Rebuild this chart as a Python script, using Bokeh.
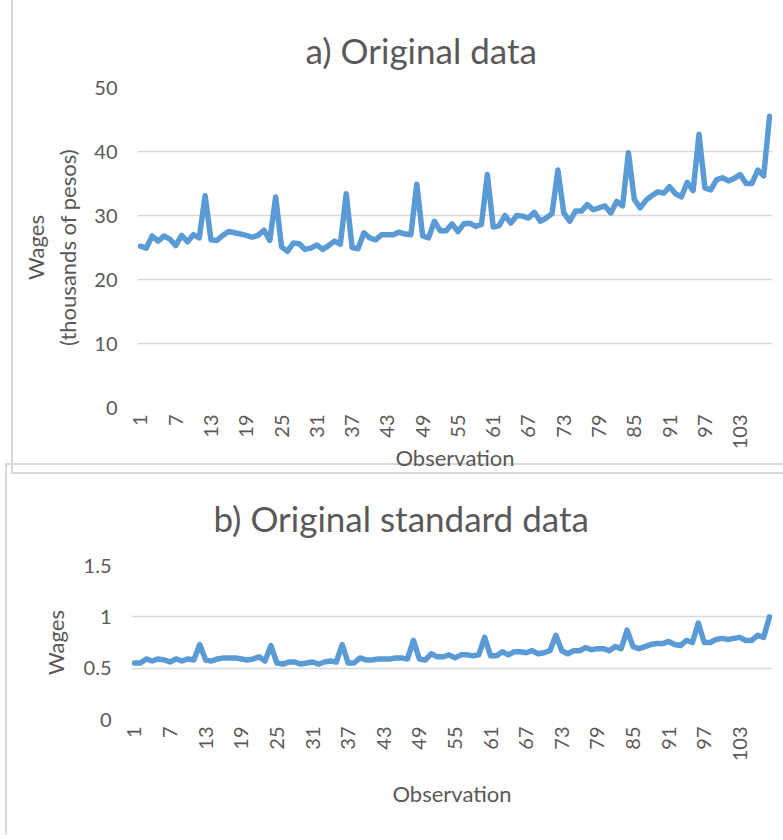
from math import pi
from bokeh.plotting import figure
from bokeh.models import Range1d, FixedTicker, ColumnDataSource, NumeralTickFormatter
from bokeh.layouts import column
from bokeh.embed import file_html
from bokeh.resources import INLINE

# ---------------- data ----------------
observation = list(range(1, 109))
wages = [
    25.2, 24.9, 26.8, 26.0, 26.8, 26.3, 25.3, 26.9, 25.9, 27.0, 26.5, 33.1,
    26.2, 26.1, 26.9, 27.5, 27.3, 27.1, 26.9, 26.6, 26.9, 27.7, 26.1, 32.9,
    25.1, 24.4, 25.7, 25.6, 24.7, 24.9, 25.4, 24.7, 25.3, 26.0, 25.5, 33.4,
    25.0, 24.8, 27.3, 26.5, 26.2, 27.0, 27.0, 27.0, 27.4, 27.1, 27.0, 34.9,
    26.8, 26.5, 29.1, 27.6, 27.6, 28.7, 27.5, 28.7, 28.8, 28.3, 28.6, 36.4,
    28.2, 28.4, 30.0, 28.8, 30.0, 29.9, 29.6, 30.5, 29.1, 29.6, 30.3, 37.1,
    30.4, 29.1, 30.7, 30.7, 31.7, 30.9, 31.2, 31.5, 30.4, 32.2, 31.5, 39.8,
    32.5, 31.2, 32.4, 33.1, 33.7, 33.5, 34.5, 33.4, 32.9, 35.2, 33.9, 42.7,
    34.3, 34.0, 35.6, 35.9, 35.4, 35.8, 36.4, 35.0, 35.0, 37.1, 36.2, 45.5,
]
wages_std = [
    0.55, 0.55, 0.59, 0.57, 0.59, 0.58, 0.56, 0.59, 0.57, 0.59, 0.58, 0.73,
    0.58, 0.57, 0.59, 0.60, 0.60, 0.60, 0.59, 0.58, 0.59, 0.61, 0.57, 0.72,
    0.55, 0.54, 0.56, 0.56, 0.54, 0.55, 0.56, 0.54, 0.56, 0.57, 0.56, 0.73,
    0.55, 0.55, 0.60, 0.58, 0.58, 0.59, 0.59, 0.59, 0.60, 0.60, 0.59, 0.77,
    0.59, 0.58, 0.64, 0.61, 0.61, 0.63, 0.60, 0.63, 0.63, 0.62, 0.63, 0.80,
    0.62, 0.62, 0.66, 0.63, 0.66, 0.66, 0.65, 0.67, 0.64, 0.65, 0.67, 0.82,
    0.67, 0.64, 0.67, 0.67, 0.70, 0.68, 0.69, 0.69, 0.67, 0.71, 0.69, 0.87,
    0.71, 0.69, 0.71, 0.73, 0.74, 0.74, 0.76, 0.73, 0.72, 0.77, 0.75, 0.94,
    0.75, 0.75, 0.78, 0.79, 0.78, 0.79, 0.80, 0.77, 0.77, 0.82, 0.80, 1.00,
]
x_ticks = list(range(1, 108, 6))
y_ticks_a = [0, 10, 20, 30, 40, 50]
y_ticks_b = [0, 0.5, 1, 1.5]

FONT = "Lato"
TXT = "#595959"
GRID = "#D9D9D9"
LINE = "#5B9BD5"


def style(p, title_offset, title_standoff):
    p.title.text_font = FONT
    p.title.text_font_size = "35px"
    p.title.text_font_style = "normal"
    p.title.text_color = TXT
    p.title.align = "left"
    p.title.offset = title_offset
    p.title.standoff = title_standoff
    p.outline_line_color = None
    p.background_fill_color = None
    p.border_fill_color = None
    p.xgrid.grid_line_color = None
    p.ygrid.grid_line_color = GRID
    p.ygrid.grid_line_width = 1.5
    for ax in (p.xaxis[0], p.yaxis[0]):
        ax.axis_line_color = None
        ax.major_tick_line_color = None
        ax.minor_tick_line_color = None
        ax.major_tick_out = 0
        ax.major_tick_in = 0
        ax.major_label_text_font = FONT
        ax.major_label_text_font_size = "20px"
        ax.major_label_text_color = TXT
        ax.axis_label_text_font = FONT
        ax.axis_label_text_font_size = "22px"
        ax.axis_label_text_font_style = "normal"
        ax.axis_label_text_color = TXT
    p.xaxis.ticker = FixedTicker(ticks=x_ticks)
    p.xaxis.major_label_orientation = pi / 2
    p.xaxis.major_label_standoff = 7


# ---------------- top chart ----------------
src_a = ColumnDataSource(dict(obs=observation, val=wages))
p1 = figure(width=772, height=474, output_backend="svg", toolbar_location=None,
            x_range=Range1d(0.5, 108.5), y_range=Range1d(0, 50),
            title="a) Original data",
            min_border_left=124, min_border_right=7, min_border_top=87,
            min_border_bottom=66)
p1.line("obs", "val", source=src_a, line_color=LINE, line_width=5.5,
        line_join="round", line_cap="round")
style(p1, 168, 34)
p1.yaxis.ticker = FixedTicker(ticks=y_ticks_a)
p1.yaxis.axis_label = "Wages\n(thousands of pesos)"
p1.yaxis.major_label_standoff = 20
p1.yaxis.axis_label_standoff = 10
p1.xaxis.axis_label = "Observation"
p1.xaxis.axis_label_standoff = -8
p1.styles = {"border-left": "2px solid #d9d9d9", "border-bottom": "2px solid #d9d9d9",
             "position": "relative", "z-index": "2"}
p1.margin = (0, 0, 0, 11)

# ---------------- bottom chart ----------------
src_b = ColumnDataSource(dict(obs=observation, val=wages_std))
p2 = figure(width=778, height=372, output_backend="svg", toolbar_location=None,
            x_range=Range1d(0.5, 108.5), y_range=Range1d(0, 1.5),
            title="b) Original standard data",
            min_border_left=124, min_border_right=13, min_border_top=100,
            min_border_bottom=118)
p2.line("obs", "val", source=src_b, line_color=LINE, line_width=5.5,
        line_join="round", line_cap="round")
style(p2, 82, 54)
p2.yaxis.ticker = FixedTicker(ticks=y_ticks_b)
p2.yaxis.formatter = NumeralTickFormatter(format="0.[0]")
p2.yaxis.axis_label = "Wages"
p2.yaxis.major_label_standoff = 20
p2.yaxis.axis_label_standoff = 12
p2.xaxis.axis_label = "Observation"
p2.xaxis.axis_label_standoff = 16
p2.styles = {"border-left": "2px solid #d9d9d9", "border-top": "2px solid #d9d9d9",
             "position": "relative", "z-index": "1"}
p2.margin = (-11, 0, 0, 5)

layout = column(p1, p2, spacing=0)
open("out.html", "w").write(file_html(layout, INLINE))
